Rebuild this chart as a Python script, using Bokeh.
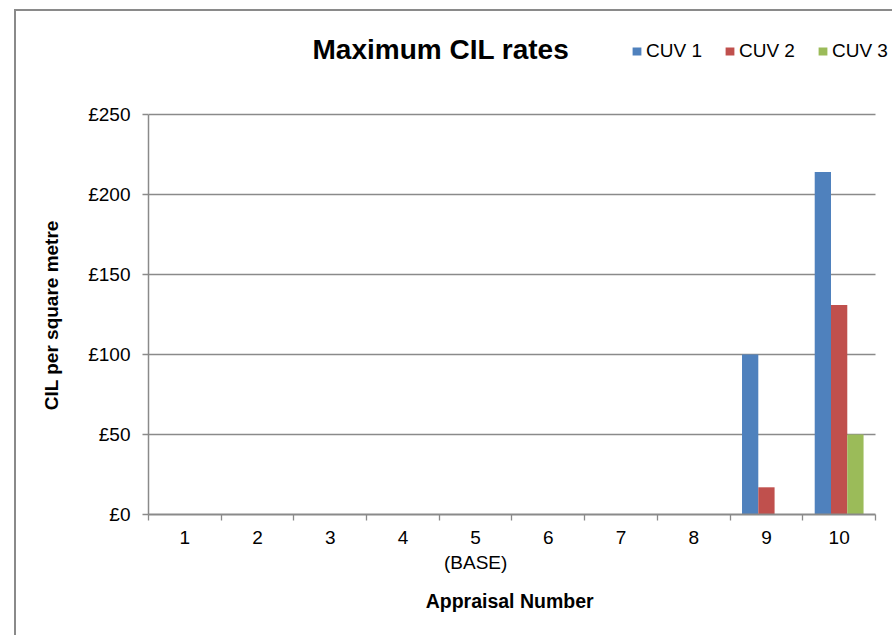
from bokeh.plotting import figure
from bokeh.models import (ColumnDataSource, Range1d, FixedTicker, PrintfTickFormatter,
                          Legend, LegendItem, Label, BoxAnnotation)
from bokeh.transform import dodge
from bokeh.embed import file_html
from bokeh.resources import INLINE

appraisal = [1, 2, 3, 4, 5, 6, 7, 8, 9, 10]
tick_labels = ["1", "2", "3", "4", "5\n(BASE)", "6", "7", "8", "9", "10"]
cuv1 = [0, 0, 0, 0, 0, 0, 0, 0, 100, 214]
cuv2 = [0, 0, 0, 0, 0, 0, 0, 0, 17, 131]
cuv3 = [0, 0, 0, 0, 0, 0, 0, 0, 0, 50]
series_names = ["CUV 1", "CUV 2", "CUV 3"]
colors = ["#4F81BD", "#C0504D", "#9BBB59"]
y_ticks = [0, 50, 100, 150, 200, 250]
title_text = "Maximum CIL rates"
x_title = "Appraisal Number"
y_title = "CIL per square metre"

src = ColumnDataSource(dict(x=appraisal, cuv1=cuv1, cuv2=cuv2, cuv3=cuv3))

FONT = "Liberation Sans"
GRAY = "#8a8a8a"

border_css = {
    "background-image": f"linear-gradient({GRAY}, {GRAY}), linear-gradient({GRAY}, {GRAY})",
    "background-size": "2px 100%, 100% 2px",
    "background-position": "14px 9px, 14px 9px",
    "background-repeat": "no-repeat",
}

# frame reaches up (room for title and legend) and right to the edge;
# the axes themselves are bounded to the category / value extents
p = figure(width=892, height=635, output_backend="svg", toolbar_location=None,
           x_range=Range1d(0.5, 10.734), y_range=Range1d(0, 315),
           min_border_left=148, min_border_top=10, min_border_right=0,
           min_border_bottom=121, styles=border_css)
p.border_fill_alpha = 0
p.background_fill_alpha = 0
p.title.text = ""

bw = 0.224
renderers = []
for i, (col, c) in enumerate(zip(["cuv1", "cuv2", "cuv3"], colors)):
    r = p.vbar(x=dodge("x", (i - 1) * bw, range=p.x_range), top=col, width=bw,
               source=src, fill_color=c, line_color=None)
    renderers.append(r)

p.outline_line_color = None
p.xgrid.grid_line_color = None
p.ygrid.grid_line_color = GRAY
p.ygrid.grid_line_width = 1.3
try:
    p.ygrid.cross_bounds = (0.5, 10.5)
except AttributeError:
    p.add_layout(BoxAnnotation(left=10.5, bottom=-5, top=252, fill_color="white",
                               fill_alpha=1, line_color=None, level="underlay"))

# x axis
xa = p.xaxis[0]
xa.bounds = (0.5, 10.5)
xa.ticker = FixedTicker(ticks=appraisal, minor_ticks=[a - 0.5 for a in appraisal] + [10.5])
xa.major_label_overrides = {a: t for a, t in zip(appraisal, tick_labels)}
xa.major_tick_line_color = None
xa.major_tick_out = 0
xa.major_tick_in = 0
xa.minor_tick_line_color = GRAY
xa.minor_tick_out = 6
xa.minor_tick_in = 0
xa.minor_tick_line_width = 1.3
xa.axis_line_color = GRAY
xa.axis_line_width = 2
xa.major_label_text_font = FONT
xa.major_label_text_font_size = "19px"
xa.major_label_text_color = "black"
xa.major_label_standoff = 6
# trailing no-break spaces keep the label centred under the 1..10 part of the axis
xa.axis_label = x_title + "\u00a0" * 4
xa.axis_label_text_font = FONT
xa.axis_label_text_font_size = "19.5px"
xa.axis_label_text_font_style = "bold"
xa.axis_label_text_color = "black"
xa.axis_label_standoff = 14

# y axis
ya = p.yaxis[0]
ya.bounds = (0, 250)
ya.ticker = FixedTicker(ticks=y_ticks, minor_ticks=[])
ya.formatter = PrintfTickFormatter(format="£%d")
ya.major_tick_line_color = GRAY
ya.major_tick_out = 6
ya.major_tick_in = 0
ya.major_tick_line_width = 1.3
ya.axis_line_color = GRAY
ya.axis_line_width = 1.5
ya.major_label_text_font = FONT
ya.major_label_text_font_size = "19px"
ya.major_label_text_color = "black"
ya.major_label_standoff = 12
# trailing no-break spaces keep the label centred on the 0..250 part of the axis
ya.axis_label = y_title + "\u00a0" * 20
ya.axis_label_text_font = FONT
ya.axis_label_text_font_size = "19px"
ya.axis_label_text_font_style = "bold"
ya.axis_label_text_color = "black"
ya.axis_label_standoff = 23

# chart title
p.add_layout(Label(x=164, y=465, x_units="screen", y_units="screen", text=title_text,
                   text_font=FONT, text_font_size="28px", text_font_style="bold",
                   text_color="black", text_align="left", text_baseline="alphabetic"))

legend = Legend(items=[LegendItem(label=n, renderers=[r]) for n, r in zip(series_names, renderers)],
                orientation="horizontal", location=(483, 452),
                label_text_font=FONT, label_text_font_size="19px", label_text_color="black",
                glyph_width=11, glyph_height=10, label_standoff=4, spacing=22,
                padding=0, margin=0, border_line_color=None, background_fill_alpha=0)
p.add_layout(legend, "center")

open("out.html", "w").write(file_html(p, INLINE))
